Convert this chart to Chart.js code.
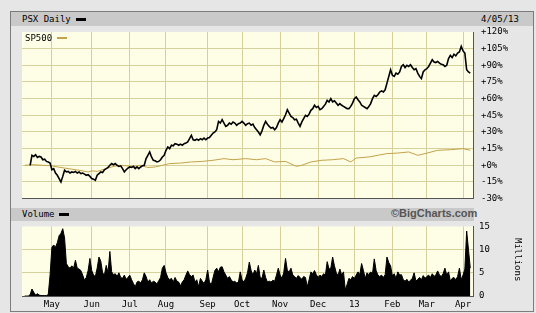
<!DOCTYPE html>
<html>
<head>
<meta charset="utf-8">
<script src="https://cdn.jsdelivr.net/npm/chart.js@4.4.0/dist/chart.umd.min.js"></script>
<style>
  body { margin: 0; width: 536px; height: 313px; background: #e6e6e6; overflow: hidden; position: relative; font-family: "DejaVu Sans Mono", monospace; font-size: 9px; color: #000; }
  .abs { position: absolute; }
  #frame { left: 10px; top: 11px; width: 524px; height: 301px; border: 1px solid #7c7c7c; box-sizing: border-box; }
  .band { background: #c9c9c9; }
  .dash { background: #000; height: 3px; width: 10px; }
  canvas { position: absolute; left: 0; }
</style>
</head>
<body>
<div id="frame" class="abs"></div>
<div class="abs band" style="left:11px;top:12px;width:522px;height:14px"></div>
<div class="abs" style="left:22px;top:14px">PSX Daily</div>
<div class="abs dash" style="left:76px;top:18px"></div>
<div class="abs" style="left:481px;top:14px">4/05/13</div>
<div class="abs band" style="left:11px;top:208px;width:463px;height:13px"></div>
<div class="abs" style="left:22px;top:209px">Volume</div>
<div class="abs dash" style="left:59px;top:213px"></div>
<div class="abs" style="left:391px;top:207px;font:bold 11px 'Liberation Sans',Arial,sans-serif;color:#555">©BigCharts.com</div>
<canvas id="priceChart" width="536" height="212" style="top:0"></canvas>
<div class="abs" style="left:25px;top:33px">SP500</div>
<div class="abs" style="left:57px;top:37px;width:10px;height:2px;background:#c4a24a"></div>
<canvas id="volChart" width="536" height="98" style="top:215px"></canvas>
<div class="abs" style="left:513px;top:238px;writing-mode:vertical-rl">Millions</div>
<script>
// trading day index of each month start, and its label
const monthDays = [15, 37, 58, 78, 101, 120, 141, 162, 182, 203, 222, 242];
const monthLabels = ['May', 'Jun', 'Jul', 'Aug', 'Sep', 'Oct', 'Nov', 'Dec', '13', 'Feb', 'Mar', 'Apr'];

// PSX daily close, % change (index = trading day)
const psxPct = [null, null, null, 0, 9, 8, 9.5, 7, 8, 7.5,
  5, 5.5, 3.5, 3, 2, -4, -3, -7, -9, -12,
  -15, -10, -4.5, -6, -5.5, -7, -6, -6.5, -5.5, -7,
  -6, -7.5, -7, -8, -9, -8.5, -10, -12, -12.5, -13.5,
  -9, -7.5, -6, -6.5, -4, -3, -2, 0, 1.5, 0.5,
  1.5, 0, -1, -0.5, -3, -6, -4, -2.5, -1.5, -2,
  -1, -3, -1.5, -3, -1.5, -0.5, 0, 6, 9, 12,
  7.5, 4.5, 4, 3, 3.5, 5, 7.5, 9, 13.5, 16.5,
  15, 18, 17.5, 19.5, 19, 18, 19, 18, 19.5, 20,
  21, 24, 27, 23, 22.5, 23.5, 22.5, 24, 23, 24.5,
  23, 24.5, 25, 27, 29, 30, 32, 39.5, 38, 41,
  38, 35, 36, 38, 37, 39, 38, 36, 37.5, 38,
  39.5, 38, 36, 37.5, 38, 36, 37, 34, 32, 30,
  27.5, 31, 36, 39.5, 37, 35, 33.5, 34, 32, 34,
  38, 41, 39, 42, 45.5, 50, 47, 44, 43, 41,
  41.5, 38, 35, 39, 42, 45, 44, 46, 49.5, 51,
  54, 52, 53, 50, 51, 53, 55, 58.5, 57, 60,
  57, 58, 56, 54, 55.5, 54, 53, 52, 51, 51,
  53, 56, 60, 61.5, 59, 57, 54, 53, 52, 51,
  53, 55.5, 60, 63, 62, 63.5, 66, 67, 66, 68,
  74, 80, 86, 81, 80, 83, 82, 84, 89, 90.5,
  88, 90, 89, 90.5, 88, 86, 87, 83, 80, 78,
  84, 86, 87, 89, 92, 95, 93, 92.5, 93.5, 92,
  91, 90.5, 89, 90, 96, 99, 97, 100, 98.5, 101,
  102, 107, 103, 101, 86, 84, 83];

// SP500 % change, read at selected trading days
const spxDays = [0, 5, 10, 15, 18, 22, 26, 30, 35, 37, 40, 44, 48, 52, 56, 60, 64, 68, 72, 76,
  80, 86, 92, 98, 104, 110, 115, 122, 128, 133, 138, 144, 150, 153, 158, 164, 170, 176, 180, 183,
  190, 195, 200, 206, 212, 217, 221, 228, 235, 242, 246];
const spxPct = [0, 0.5, 0, -0.5, -1.5, -2.5, -3.5, -4.5, -6, -5, -5.5, -3.5, -1.5, 0, -0.5, -1, 0, -2, -1.5, 0,
  1.5, 2, 3, 3.5, 4.5, 6, 5, 6, 5, 6, 3, 3.5, -1, 0, 3, 4.5, 5, 6, 3, 6.5,
  7.5, 9, 10.5, 11, 12, 9, 10.5, 13.5, 14, 15, 13.5];

// PSX volume, millions of shares
const volume = [0, 0, 0, 0.3, 1.5, 0.8, 0.2, 0.5, 0.2, 0.1,
  0.1, 0.1, 0.1, 0.3, 4.5, 10.5, 11, 10.5, 11.5, 13,
  13.5, 14.5, 12.5, 7, 6.3, 6, 6.5, 6, 7.7, 6,
  5.8, 5.5, 4.5, 3.4, 4, 5.5, 8.1, 5.5, 4.5, 4.2,
  6, 8.4, 7.5, 5, 4.5, 6.6, 5, 9.6, 5.2, 4.6,
  4.8, 4.2, 5, 4, 3.8, 4.5, 3.6, 4, 4.5, 3.5,
  2.7, 2, 3, 3.2, 2.8, 3.5, 5, 4.2, 3, 3.5,
  2.8, 3.2, 3, 2.6, 3.3, 4, 6, 6.6, 5, 4,
  3.5, 3.8, 3, 4, 3.2, 3, 2.2, 3, 3.5, 4.5,
  5.4, 4.6, 4.2, 4.5, 3, 3.5, 2, 3.8, 3.2, 2.7,
  3.5, 5.6, 3, 2.4, 4, 5.5, 6, 5.2, 6.2, 6.3,
  5.2, 4.5, 3.8, 4.2, 3.5, 3, 3.2, 2.8, 3, 5.2,
  3.5, 3, 3.8, 5, 7.3, 5.5, 4.5, 5.6, 4.8, 6.6,
  4, 3.8, 5.6, 4, 3, 3.2, 3, 3.4, 3.2, 4.5,
  6, 4.5, 3.8, 5, 8.1, 5.5, 5.2, 6, 4.5, 4.2,
  3.8, 4.4, 4, 3.6, 4.2, 4, 2, 3.5, 5.2, 4.8,
  5.5, 4.6, 4, 4.5, 4.2, 4.8, 4.5, 7.4, 5.8, 6,
  8.4, 6.5, 5, 4.4, 5.8, 4.5, 5.2, 1.3, 2.5, 3.8,
  3.5, 4.2, 3.8, 4.5, 5.2, 4.6, 7, 5.5, 3.8, 5,
  4.6, 5.2, 4.8, 8, 5.5, 4.5, 4.2, 4.5, 4, 4.6,
  8.4, 7.2, 6.5, 4.3, 4.8, 3.8, 5.2, 4.5, 4.6, 3.5,
  3.2, 3.6, 3, 3.4, 3.8, 5, 3.2, 3.6, 4, 3.5,
  4.4, 3.8, 4.2, 4.5, 4, 4.8, 4.2, 4.6, 5.4, 4.5,
  4.2, 4.8, 6, 4.5, 5.2, 3.2, 3.8, 4, 3.5, 4.2,
  6, 3.5, 4.5, 5.8, 14, 10, 6];

const gridColor = '#d4d19c';
const axisFont = { family: 'DejaVu Sans Mono', size: 9 };

const plotBg = {
  id: 'plotBg',
  beforeDraw(chart) {
    const a = chart.chartArea;
    chart.ctx.save();
    chart.ctx.fillStyle = '#fefee6';
    chart.ctx.fillRect(a.left, a.top, a.right - a.left, a.bottom - a.top);
    chart.ctx.restore();
  }
};

function monthTicks(scale) {
  scale.ticks = monthDays.map(d => ({ value: d }));
}

new Chart(document.getElementById('priceChart'), {
  type: 'line',
  data: {
    datasets: [
      {
        data: psxPct.map((v, i) => ({ x: i, y: v })),
        borderColor: '#000',
        borderWidth: 1.6,
        pointRadius: 0,
        tension: 0
      },
      {
        data: spxDays.map((d, i) => ({ x: d, y: spxPct[i] })),
        borderColor: '#c4a24a',
        borderWidth: 1,
        pointRadius: 0,
        tension: 0
      }
    ]
  },
  options: {
    responsive: false,
    animation: false,
    layout: { padding: { left: 22, top: 32, right: 0, bottom: 2 } },
    plugins: { legend: { display: false }, tooltip: { enabled: false } },
    scales: {
      x: {
        type: 'linear', min: -1.5, max: 247.5,
        afterBuildTicks: monthTicks,
        afterFit: s => { s.height = 0; },
        ticks: { display: false },
        grid: { color: gridColor, drawTicks: false },
        border: { color: '#555' }
      },
      y: {
        position: 'right', min: -30, max: 120,
        afterFit: s => { s.width = 63; },
        ticks: {
          stepSize: 15, padding: 8, color: '#000', font: axisFont,
          callback: v => (v >= 0 ? '+' : '') + v + '%'
        },
        grid: { color: c => c.tick && c.tick.value === 120 ? 'rgba(0,0,0,0)' : gridColor, drawTicks: false },
        border: { color: '#555' }
      }
    }
  },
  plugins: [plotBg]
});

new Chart(document.getElementById('volChart'), {
  type: 'line',
  data: {
    datasets: [{
      data: volume.map((v, i) => ({ x: i, y: v })),
      borderColor: '#000',
      backgroundColor: '#000',
      borderWidth: 1,
      fill: 'origin',
      pointRadius: 0,
      tension: 0
    }]
  },
  options: {
    responsive: false,
    animation: false,
    layout: { padding: { left: 22, top: 4, right: 0, bottom: 0 } },
    plugins: { legend: { display: false }, tooltip: { enabled: false } },
    scales: {
      x: {
        type: 'linear', min: -1.5, max: 247.5,
        afterBuildTicks: monthTicks,
        afterFit: s => { s.height = 17; },
        ticks: {
          autoSkip: false, maxRotation: 0, padding: 3, color: '#000', font: axisFont,
          callback: v => monthLabels[monthDays.indexOf(v)]
        },
        grid: { color: gridColor, drawTicks: false },
        border: { color: '#555' }
      },
      y: {
        position: 'right', min: 0, max: 15,
        afterFit: s => { s.width = 63; },
        ticks: { stepSize: 5, padding: 6, color: '#000', font: axisFont },
        grid: { color: c => c.tick && c.tick.value === 15 ? 'rgba(0,0,0,0)' : gridColor, drawTicks: false },
        border: { color: '#555' }
      }
    }
  },
  plugins: [plotBg]
});
</script>
</body>
</html>
